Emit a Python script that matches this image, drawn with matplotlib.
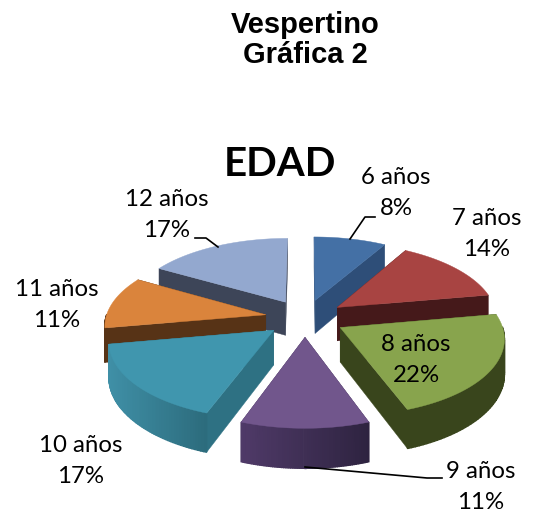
import numpy as np
import matplotlib
matplotlib.use("Agg")
import matplotlib.pyplot as plt
from matplotlib.patches import Polygon
from matplotlib.colors import to_rgb

labels = ["6 años", "7 años", "8 años", "9 años", "10 años", "11 años", "12 años"]
values = [3, 5, 8, 4, 6, 4, 6]
pct_labels = ["8%", "14%", "22%", "11%", "17%", "11%", "17%"]
top_colors = ["#4470A5", "#A84442", "#88A44D", "#71568C", "#4096AE", "#DA843C", "#93A8CF"]
face_colors = ["#2E4E78", "#45191A", "#39451C", "#3A2A50", "#2E7183", "#573316", "#3D4558"]
wall_left = ["#2E4E78", "#45191A", "#39451C", "#4F3A68", "#3F8FA6", "#573316", "#3D4558"]
wall_right = ["#2E4E78", "#45191A", "#39451C", "#2E2340", "#2C6B7C", "#573316", "#3D4558"]
draw_order = [6, 0, 1, 5, 2, 4, 3]
label_xy = [(396, 193), (487, 234), (416, 360), (481, 487), (81, 461), (57, 305), (167, 215)]

CX, CY, RX, RY, K, EXPLODE, DEPTH = 305, 318, 160, 75, 0.12, 0.25, 34

fig = plt.figure(figsize=(5.35, 5.14), dpi=100)
ax = fig.add_axes([0, 0, 1, 1])
ax.set_xlim(0, 535)
ax.set_ylim(514, 0)
ax.axis("off")


def proj(u, v, z=0.0):
    s = 1 / (1 - K * v)
    return CX + RX * u * s, CY + RY * v * s + z * s


def arc(a0, a1, n=60):
    return np.radians(np.linspace(a0, a1, n))


edges = np.concatenate([[0], np.cumsum(values)]) / sum(values) * 360
z_base = 0
for i in draw_order:
    a0, a1 = edges[i], edges[i + 1]
    mid = np.radians((a0 + a1) / 2)
    ou, ov = EXPLODE * np.sin(mid), -EXPLODE * np.cos(mid)
    th = arc(a0, a1)
    us = ou + np.sin(th)
    vs = ov - np.cos(th)
    apex_top = proj(ou, ov)
    apex_bot = proj(ou, ov, DEPTH)
    top_pts = [proj(u, v) for u, v in zip(us, vs)]
    bot_pts = [proj(u, v, DEPTH) for u, v in zip(us, vs)]

    start_face = [apex_top, top_pts[0], bot_pts[0], apex_bot]
    end_face = [apex_top, top_pts[-1], bot_pts[-1], apex_bot]
    faces = [start_face, end_face] if np.sin(mid) > 0 else [end_face, start_face]
    for f in faces:
        ax.add_patch(Polygon(f, closed=True, fc=face_colors[i], ec=face_colors[i], lw=0.3, zorder=z_base))
        z_base += 1

    # curved outer wall, shaded left to right in small strips
    cl, cr = np.array(to_rgb(wall_left[i])), np.array(to_rgb(wall_right[i]))
    xs = np.array([p[0] for p in top_pts])
    span = max(xs.max() - xs.min(), 1)
    for j in range(len(th) - 1):
        if vs[j] - ov > 0 or vs[j + 1] - ov > 0:
            t = (0.5 * (xs[j] + xs[j + 1]) - xs.min()) / span
            c = cl * (1 - t) + cr * t
            ax.add_patch(Polygon([top_pts[j], top_pts[j + 1], bot_pts[j + 1], bot_pts[j]],
                                 closed=True, fc=c, ec=c, lw=1.0, zorder=z_base))
    z_base += 1
    ax.add_patch(Polygon([apex_top] + top_pts, closed=True, fc=top_colors[i], ec=top_colors[i], lw=0.3, zorder=z_base))
    z_base += 1

# leader lines
ax.plot([350, 365, 375], [239, 217, 217], color="black", lw=1.2, zorder=500)
ax.plot([195, 206, 218], [238, 238, 247], color="black", lw=1.2, zorder=500)
ax.plot([305, 427, 442], [467, 478, 478], color="black", lw=1.2, zorder=500)

for i, (x, y) in enumerate(label_xy):
    ax.text(x, y, f"{labels[i]}\n{pct_labels[i]}", ha="center", va="center", fontsize=17.3,
            family="Lato", color="black", linespacing=1.6, zorder=600)

ax.text(305, 40, "Vespertino\nGráfica 2", ha="center", va="center", fontsize=21, fontweight="bold",
        family="Liberation Sans", color="black", linespacing=1.1, zorder=600)
ax.text(280, 165, "EDAD", ha="center", va="center", fontsize=29, fontweight="bold",
        family="Lato", color="black", zorder=600)

fig.savefig("out.png", dpi=100, facecolor="white")
